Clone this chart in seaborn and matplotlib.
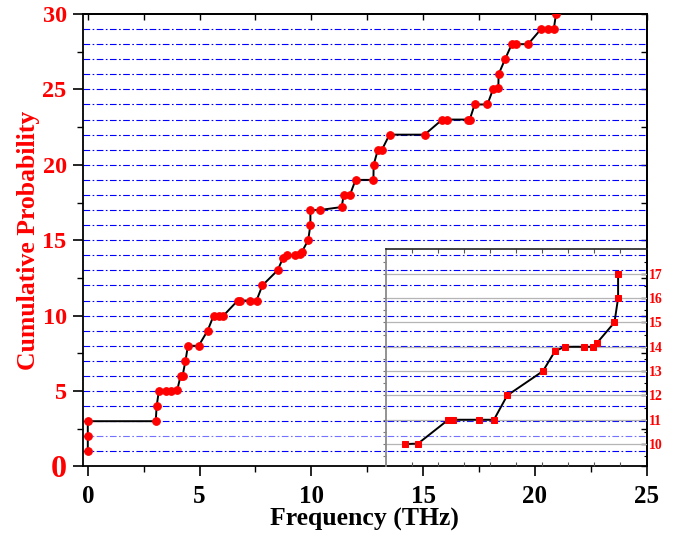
import matplotlib
matplotlib.use("Agg")
import matplotlib.pyplot as plt
import numpy as np
import pandas as pd
import seaborn as sns

# main curve
freq = [0, 0, 0, 3.04, 3.08, 3.18, 3.51, 3.73, 4.00, 4.15, 4.24, 4.37, 4.48, 4.96,
        5.36, 5.63, 5.85, 6.07, 6.71, 6.79, 7.25, 7.55, 7.81, 8.49, 8.73, 8.93,
        9.28, 9.48, 9.57, 9.86, 9.96, 9.96, 10.37, 11.36, 11.45, 11.73, 11.98,
        12.78, 12.79, 12.98, 13.16, 13.50, 15.07, 15.86, 16.09, 17.03, 17.09,
        17.31, 17.88, 18.13, 18.37, 18.38, 18.67, 18.97, 19.18, 19.70, 20.28,
        20.59, 20.85, 20.95, 21.10]
prob = [1, 2, 3, 3, 4, 5, 5, 5, 5.05, 6, 6, 7, 8, 8,
        9, 10, 10, 10, 11, 11, 11, 11, 12, 13, 13.8, 14,
        14, 14.1, 14.2, 15, 16, 17, 17, 17.2, 18, 18, 19,
        19, 20, 21, 21, 22, 22, 23, 23, 23, 23,
        24, 24, 25, 25.1, 26, 27, 28, 28, 28, 29,
        29, 29, 30, 31]

# inset (zoomed part, 10..17)
inset_x = [0.75, 1.24, 2.40, 2.57, 3.57, 4.15, 4.66, 6.03, 6.49, 6.87, 7.60,
           7.96, 8.11, 8.77, 8.91, 8.91]
inset_y = [10, 10.02, 11, 11, 11, 11, 12, 13, 13.82, 14, 14, 14, 14.17, 15, 16, 17]

main_df = pd.DataFrame({"freq": freq, "prob": prob})
inset_df = pd.DataFrame({"x": inset_x, "y": inset_y})

sns.set_style("ticks")
plt.rcParams["font.family"] = ["Liberation Serif", "DejaVu Serif"]
plt.rcParams["font.weight"] = "bold"

fig = plt.figure(figsize=(6.83, 5.38), dpi=100)
ax = fig.add_axes([0.122, 0.133, 0.8246, 0.841])

# blue dash-dot guide lines at each integer level
for lvl in range(1, 30):
    ax.axhline(lvl, color="blue", lw=0.8, dashes=(6, 2.2, 1.5, 2.2),
               alpha=0.55 if lvl == 2 else 1.0, zorder=1)

sns.lineplot(data=main_df, x="freq", y="prob", sort=False, estimator=None,
             color="black", lw=1.4, marker="o", markersize=5.5,
             markerfacecolor="red", markeredgecolor="red", ax=ax, zorder=3)

ax.set_xlim(-0.2, 25)
ax.set_ylim(0, 30)
ax.set_xticks(np.arange(0, 26, 5))
ax.set_xticks(np.arange(0, 25.1, 2.5), minor=True)
ax.set_yticks(np.arange(0, 31, 5))
ax.set_yticks(np.arange(0, 30.1, 2.5), minor=True)
ax.tick_params(axis="both", which="both", color="black")
ax.tick_params(axis="both", which="major", direction="out", length=7, width=1.2)
ax.tick_params(axis="both", which="minor", direction="out", length=4, width=1.0)
ax.tick_params(axis="x", labelsize=18, labelcolor="black", pad=6)
ax.tick_params(axis="y", labelsize=17.5, labelcolor="red", pad=5)
for lab in ax.get_xticklabels() + ax.get_yticklabels():
    lab.set_fontweight("bold")
ax.get_yticklabels()[0].set_fontsize(23)
for sp in ax.spines.values():
    sp.set_color("black")
    sp.set_linewidth(1.3)

ax.set_xlabel("Frequency (THz)", fontsize=18.5, fontweight="bold",
              color="black", labelpad=0)
ax.set_ylabel("Cumulative Probability", fontsize=18.5, fontweight="bold",
              color="red", labelpad=2)

# inward ticks on top and right
top = ax.secondary_xaxis("top")
top.set_xticks(np.arange(0, 26, 5))
top.set_xticks(np.arange(0, 25.1, 2.5), minor=True)
top.tick_params(which="both", direction="in", labeltop=False, length=4,
                width=1.0, color="black")
right = ax.secondary_yaxis("right")
right.set_yticks(np.arange(0, 31, 5))
right.set_yticks(np.arange(0, 30.1, 2.5), minor=True)
right.tick_params(which="both", direction="in", labelright=False, length=4,
                  width=1.0, color="black")
for sec in (top, right):
    for sp in sec.spines.values():
        sp.set_color("black")
        sp.set_linewidth(1.3)

# inset
ins = fig.add_axes([0.5647, 0.133, 0.3819, 0.4042], facecolor="none")
for lvl in range(10, 18):
    ins.axhline(lvl, color="#b5b5b5", lw=0.9, zorder=1)
sns.lineplot(data=inset_df, x="x", y="y", sort=False, estimator=None,
             color="black", lw=1.4, marker="s", markersize=4,
             markerfacecolor="red", markeredgecolor="red", ax=ins, zorder=3)
ins.set_xlim(0, 10)
ins.set_ylim(9.08, 18.02)
ins.set_xticks(np.arange(1, 10, 1))
ins.set_xlabel("")
ins.set_ylabel("")
ins.set_yticks(np.arange(9.5, 18, 0.5))
ins.tick_params(axis="x", direction="in", top=True, bottom=True,
                labelbottom=False, length=3, width=0.8, color="#555555")
ins.tick_params(axis="y", direction="out", labelleft=False, length=2.5,
                width=0.8, color="#777777")
ins.spines["left"].set_color("#8a8a8a")
ins.spines["left"].set_linewidth(1.3)
ins.spines["top"].set_color("#222222")
ins.spines["top"].set_linewidth(1.2)
ins.spines["right"].set_visible(False)
ins.spines["bottom"].set_visible(False)

ins_r = ins.secondary_yaxis("right")
ins_r.set_yticks(np.arange(10, 18, 1))
ins_r.set_yticks(np.arange(9.5, 18, 0.5), minor=True)
ins_r.tick_params(which="major", direction="in", length=4, width=1.0,
                  labelsize=10, labelcolor="red", pad=2, color="black")
ins_r.tick_params(which="minor", direction="in", length=2.5, width=0.8,
                  color="black")
for lab in ins_r.get_yticklabels():
    lab.set_fontweight("bold")
ins_r.spines["right"].set_visible(False)

fig.savefig("out.png", dpi=100)
